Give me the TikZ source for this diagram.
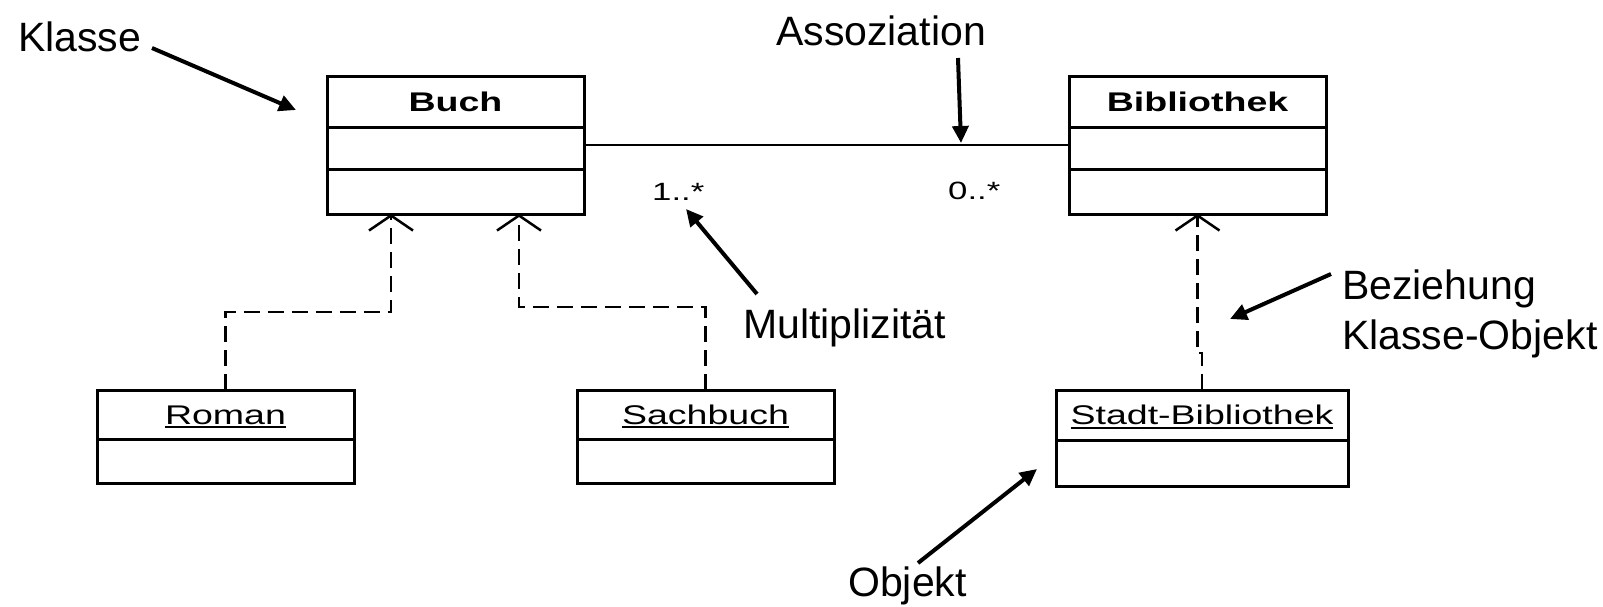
\documentclass[tikz,border=0pt]{standalone}
\usepackage{fontspec}
\setmainfont{Liberation Sans}
\newfontfamily\umlfont[FakeStretch=1.39]{Liberation Sans}
\usetikzlibrary{arrows.meta}
% underline with a fixed 2pt rule below the baseline
\newcommand\umlul[1]{\setbox0\hbox{#1}\rlap{\rule[-4pt]{\wd0}{2pt}}\box0}

\begin{document}
\begin{tikzpicture}[x=1pt, y=-1pt,
  umlpart/.style={draw, line width=3pt, inner sep=0pt, outer sep=0pt,
    anchor=north, minimum width=257pt, text height=19.3pt, text depth=0pt,
    font={\umlfont\fontsize{27pt}{30pt}\selectfont}},
  umlname/.style={umlpart, font={\umlfont\bfseries\fontsize{27pt}{30pt}\selectfont}},
  multtext/.style={inner sep=0pt, anchor=base west,
    font={\umlfont\fontsize{25pt}{30pt}\selectfont}},
  notetext/.style={inner sep=0pt, anchor=base west,
    font={\fontsize{41pt}{48pt}\selectfont}},
  notearrow/.style={line width=4pt, -{Triangle[length=17pt,width=16pt]}},
  assoc/.style={line width=2pt},
  realize/.style={line width=2.5pt, dash pattern=on 16pt off 8pt,
    -{Straight Barb[length=15pt,width=44pt]}}
]
\useasboundingbox (0,0) rectangle (1603,606);

% classes
\node[umlname, minimum height=51pt] (buch)   at (455.5,76)  {Buch};
\node[umlpart, minimum height=42pt] (buch-a) at (455.5,127) {};
\node[umlpart, minimum height=45pt] (buch-o) at (455.5,169) {};

\node[umlname, minimum height=51pt] (bib)   at (1197.5,76)  {Bibliothek};
\node[umlpart, minimum height=42pt] (bib-a) at (1197.5,127) {};
\node[umlpart, minimum height=45pt] (bib-o) at (1197.5,169) {};

% objects
\node[umlpart, minimum height=49pt] (roman)   at (225.5,390) {\umlul{Roman}};
\node[umlpart, minimum height=44pt] (roman-a) at (225.5,439) {};

\node[umlpart, minimum height=49pt] (sach)   at (705.5,390) {\umlul{Sachbuch}};
\node[umlpart, minimum height=44pt] (sach-a) at (705.5,439) {};

\node[umlpart, minimum width=292pt, minimum height=50pt] (stadt)   at (1202,390) {\umlul{Stadt-Bibliothek}};
\node[umlpart, minimum width=292pt, minimum height=46pt] (stadt-a) at (1202,440) {};

% association with multiplicities
\draw[assoc] ([yshift=3pt]buch-a.east) -- ([yshift=3pt]bib-a.west);
\node[multtext] (m-buch) at (652,200) {1..*};
\node[multtext] (m-bib)  at (948,199) {0..*};

% class-object relations
\coordinate (gen-roman) at (391,214);
\coordinate (gen-sach)  at (519,214);
\draw[realize] (roman.north) -- ++(0,-78) -| (gen-roman);
\draw[realize] (sach.north) -- ++(0,-83) -| (gen-sach);
\draw[realize] (stadt.north) -- ++(0,-37) -| (bib-o.south);

% annotations
\node[notetext] (n-klasse) at (18,51)   {Klasse};
\node[notetext] (n-assoz)  at (776,45)  {Assoziation};
\node[notetext] (n-mult)   at (743,338) {Multiplizität};
\node[notetext] (n-bez1)   at (1342,299) {Beziehung};
\node[notetext] (n-bez2)   at (1342,349) {Klasse-Objekt};
\node[notetext] (n-obj)    at (848,596) {Objekt};

\coordinate (klasse-from) at (152,48);
\coordinate (klasse-to)   at (296,110);
\coordinate (assoz-from)  at (958,58);
\coordinate (assoz-to)    at (961,143);
\coordinate (mult-from)   at (757,294);
\coordinate (mult-to)     at (686,209);
\coordinate (bez-from)    at (1331,274);
\coordinate (bez-to)      at (1230,319);
\coordinate (obj-from)    at (918,563);
\coordinate (obj-to)      at (1037,469);

\draw[notearrow] (klasse-from) -- (klasse-to);
\draw[notearrow] (assoz-from) -- (assoz-to);
\draw[notearrow] (mult-from) -- (mult-to);
\draw[notearrow] (bez-from) -- (bez-to);
\draw[notearrow] (obj-from) -- (obj-to);
\end{tikzpicture}
\end{document}
